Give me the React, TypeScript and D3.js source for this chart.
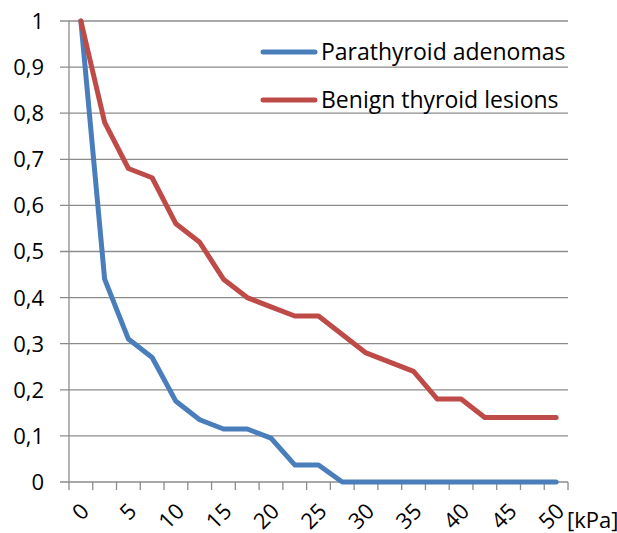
import React, { useRef, useEffect } from "react";
import * as d3 from "d3";

// stiffness categories in kPa, one data point every 2.5 kPa
const categories = [
  0, 2.5, 5, 7.5, 10, 12.5, 15, 17.5, 20, 22.5, 25, 27.5, 30, 32.5, 35, 37.5,
  40, 42.5, 45, 47.5, 50,
];
const parathyroid = [
  1, 0.44, 0.31, 0.27, 0.175, 0.135, 0.115, 0.115, 0.095, 0.037, 0.037, 0, 0,
  0, 0, 0, 0, 0, 0, 0, 0,
];
const benign = [
  1, 0.78, 0.68, 0.66, 0.56, 0.52, 0.44, 0.4, 0.38, 0.36, 0.36, 0.32, 0.28,
  0.26, 0.24, 0.18, 0.18, 0.14, 0.14, 0.14, 0.14,
];
const yTicks = [0, 0.1, 0.2, 0.3, 0.4, 0.5, 0.6, 0.7, 0.8, 0.9, 1];
const xLabels = [0, 5, 10, 15, 20, 25, 30, 35, 40, 45, 50];
const seriesNames = ["Parathyroid adenomas", "Benign thyroid lesions"];
const seriesColors = ["#4a7ebb", "#be4b48"];

const width = 617;
const height = 533;
const font = "'Open Sans', sans-serif";

const App = () => {
  const svgRef = useRef<SVGSVGElement>(null);

  useEffect(() => {
    if (!svgRef.current) return;
    const svg = d3.select(svgRef.current);
    svg.selectAll("*").remove();

    const x = d3
      .scaleBand<number>()
      .domain(categories)
      .range([69, 568])
      .padding(0);
    const y = d3.scaleLinear().domain([0, 1]).range([482, 21]);
    const grey = "#8c8c8c";

    // horizontal gridlines with outward ticks
    svg
      .append("g")
      .selectAll("line")
      .data(yTicks)
      .enter()
      .append("line")
      .attr("x1", 60)
      .attr("x2", 568)
      .attr("y1", (d) => y(d))
      .attr("y2", (d) => y(d))
      .style("stroke", grey)
      .style("stroke-width", 1.3);

    // y axis line
    svg
      .append("line")
      .attr("x1", 69)
      .attr("x2", 69)
      .attr("y1", y(1))
      .attr("y2", y(0))
      .style("stroke", grey)
      .style("stroke-width", 1.3);

    // x tick marks at category boundaries
    const bounds = categories.map((c) => x(c) as number).concat([568]);
    svg
      .append("g")
      .selectAll("line")
      .data(bounds)
      .enter()
      .append("line")
      .attr("x1", (d) => d)
      .attr("x2", (d) => d)
      .attr("y1", y(0))
      .attr("y2", y(0) + 8)
      .style("stroke", grey)
      .style("stroke-width", 1.3);

    // y labels
    svg
      .append("g")
      .selectAll("text")
      .data(yTicks)
      .enter()
      .append("text")
      .attr("x", 44)
      .attr("y", (d) => y(d))
      .attr("dy", "0.36em")
      .attr("text-anchor", "end")
      .style("font-family", font)
      .style("font-size", "22px")
      .style("fill", "#000")
      .text((d) => (d === 0 || d === 1 ? String(d) : d.toFixed(1).replace(".", ",")));

    // x labels, rotated
    const cx = (c: number) => (x(c) as number) + x.bandwidth() / 2;
    svg
      .append("g")
      .selectAll("text")
      .data(xLabels)
      .enter()
      .append("text")
      .attr("transform", (d) => `translate(${cx(d) + 4},${y(0) + 25}) rotate(-45)`)
      .attr("text-anchor", "end")
      .attr("dy", "0.36em")
      .style("font-family", font)
      .style("font-size", "22px")
      .style("fill", "#000")
      .text((d) => String(d));

    svg
      .append("text")
      .attr("x", 567)
      .attr("y", 520)
      .attr("dy", "0.36em")
      .style("font-family", font)
      .style("font-size", "22px")
      .style("fill", "#000")
      .text("[kPa]");

    // series lines
    const line = d3
      .line<number>()
      .x((_, i) => cx(categories[i]))
      .y((d) => y(d));
    [parathyroid, benign].forEach((values, i) => {
      svg
        .append("path")
        .datum(values)
        .attr("d", line)
        .style("fill", "none")
        .style("stroke", seriesColors[i])
        .style("stroke-width", 5)
        .style("stroke-linejoin", "round")
        .style("stroke-linecap", "round");
    });

    // legend
    seriesNames.forEach((name, i) => {
      const ly = 52 + i * 48;
      svg
        .append("line")
        .attr("x1", 263)
        .attr("x2", 315)
        .attr("y1", ly)
        .attr("y2", ly)
        .style("stroke", seriesColors[i])
        .style("stroke-width", 5)
        .style("stroke-linecap", "round");
      svg
        .append("text")
        .attr("x", 321)
        .attr("y", ly)
        .attr("dy", "0.36em")
        .style("font-family", font)
        .style("font-size", "23px")
        .style("fill", "#000")
        .text(name);
    });
  }, []);

  return (
    <svg
      ref={svgRef}
      width={width}
      height={height}
      style={{ position: "absolute", left: 0, top: 0, background: "#fff" }}
    />
  );
};

export default App;
